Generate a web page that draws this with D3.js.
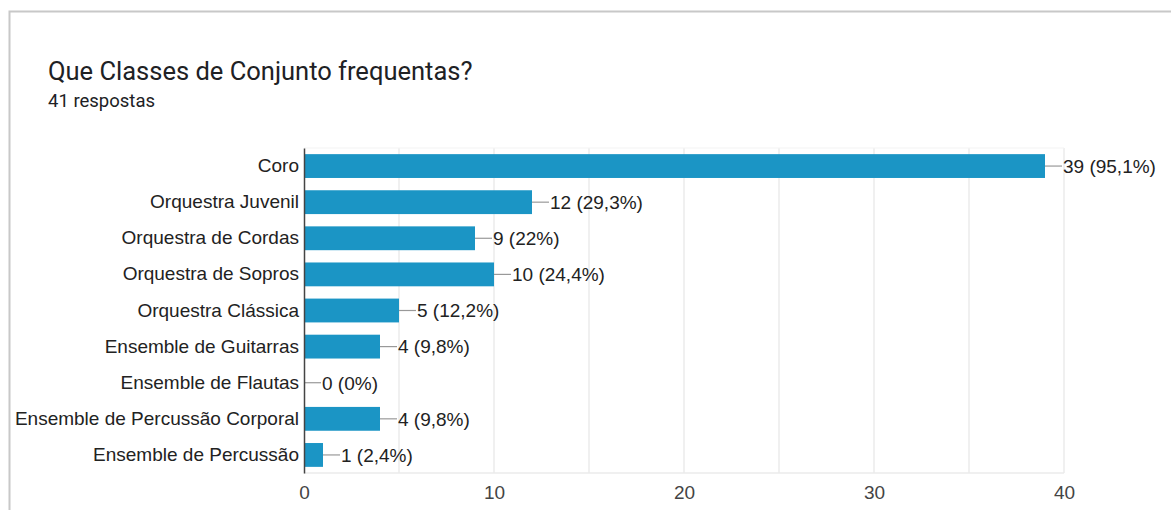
<!DOCTYPE html>
<html><head><meta charset="utf-8">
<script src="https://cdn.jsdelivr.net/npm/d3@7"></script>
<style>
html,body{margin:0;padding:0;background:#fff;}
svg{display:block;}
</style></head>
<body>
<svg id="chart" width="1171" height="510"></svg>
<script>
const title = "Que Classes de Conjunto frequentas?";
const subtitle = "41 respostas";
const categories = ["Coro","Orquestra Juvenil","Orquestra de Cordas","Orquestra de Sopros","Orquestra Clássica","Ensemble de Guitarras","Ensemble de Flautas","Ensemble de Percussão Corporal","Ensemble de Percussão"];
const counts = [39,12,9,10,5,4,0,4,1];
const percents = ["95,1%","29,3%","22%","24,4%","12,2%","9,8%","0%","9,8%","2,4%"];
const tickValues = [0,10,20,30,40];
const gridValues = [0,5,10,15,20,25,30,35,40];

const svg = d3.select("#chart");
// card border
svg.append("rect").attr("x",9.5).attr("y",11.5).attr("width",1180).attr("height",520)
  .attr("fill","#fff").attr("stroke","#c8c8c8").attr("stroke-width",2);

svg.append("text").attr("x",48).attr("y",80).text(title)
  .attr("font-family","Roboto").attr("font-size",25.5).attr("fill","#202124");
svg.append("text").attr("x",48).attr("y",107).text(subtitle)
  .attr("font-family","Roboto").attr("font-size",18.5).attr("fill","#202124");

const x = d3.scaleLinear().domain([0,40]).range([304,1064]);
const y = d3.scaleBand().domain(categories).range([148,473]).paddingInner(0.34).paddingOuter(0.17);

const font = "'Liberation Sans', Arial, sans-serif";
// grid
svg.append("g").selectAll("line").data(gridValues.slice(1)).join("line")
  .attr("x1",d=>x(d)).attr("x2",d=>x(d)).attr("y1",148).attr("y2",473)
  .attr("stroke","#ebebeb").attr("stroke-width",1.5);
svg.append("line").attr("x1",x(0)).attr("x2",x(40)).attr("y1",473).attr("y2",473)
  .attr("stroke","#ebebeb").attr("stroke-width",1.5);
svg.append("line").attr("x1",x(0)).attr("x2",x(40)).attr("y1",148).attr("y2",148)
  .attr("stroke","#f3f3f3").attr("stroke-width",1);

// bars
svg.append("g").selectAll("rect").data(categories).join("rect")
  .attr("x",x(0)).attr("y",d=>y(d)).attr("height",y.bandwidth())
  .attr("width",(d,i)=>x(counts[i])-x(0)).attr("fill","#1b95c5");

// connectors and value labels
const lab = svg.append("g");
categories.forEach((c,i)=>{
  const cy = y(c)+y.bandwidth()/2;
  const x0 = x(counts[i]);
  lab.append("line").attr("x1",x0).attr("x2",x0+17).attr("y1",cy).attr("y2",cy)
    .attr("stroke","#999").attr("stroke-width",1.2);
  lab.append("text").attr("x",x0+18).attr("y",cy).attr("dy","0.36em")
    .text(counts[i]+" ("+percents[i]+")")
    .attr("font-family",font).attr("font-size",19).attr("fill","#222");
});

// category axis
const yAxis = svg.append("g").attr("transform","translate(304,0)")
  .call(d3.axisLeft(y).tickSize(0).tickPadding(5));
yAxis.select(".domain").attr("stroke","#444").attr("stroke-width",1.5);
yAxis.selectAll("text").attr("font-family",font).attr("font-size",19).attr("fill","#222");

// x axis labels
const xAxis = svg.append("g").attr("transform","translate(0,473)")
  .call(d3.axisBottom(x).tickValues(tickValues).tickSize(0).tickPadding(13).tickFormat(d3.format("d")));
xAxis.select(".domain").remove();
xAxis.selectAll("text").attr("font-family",font).attr("font-size",19).attr("fill","#444");
</script>
</body></html>
